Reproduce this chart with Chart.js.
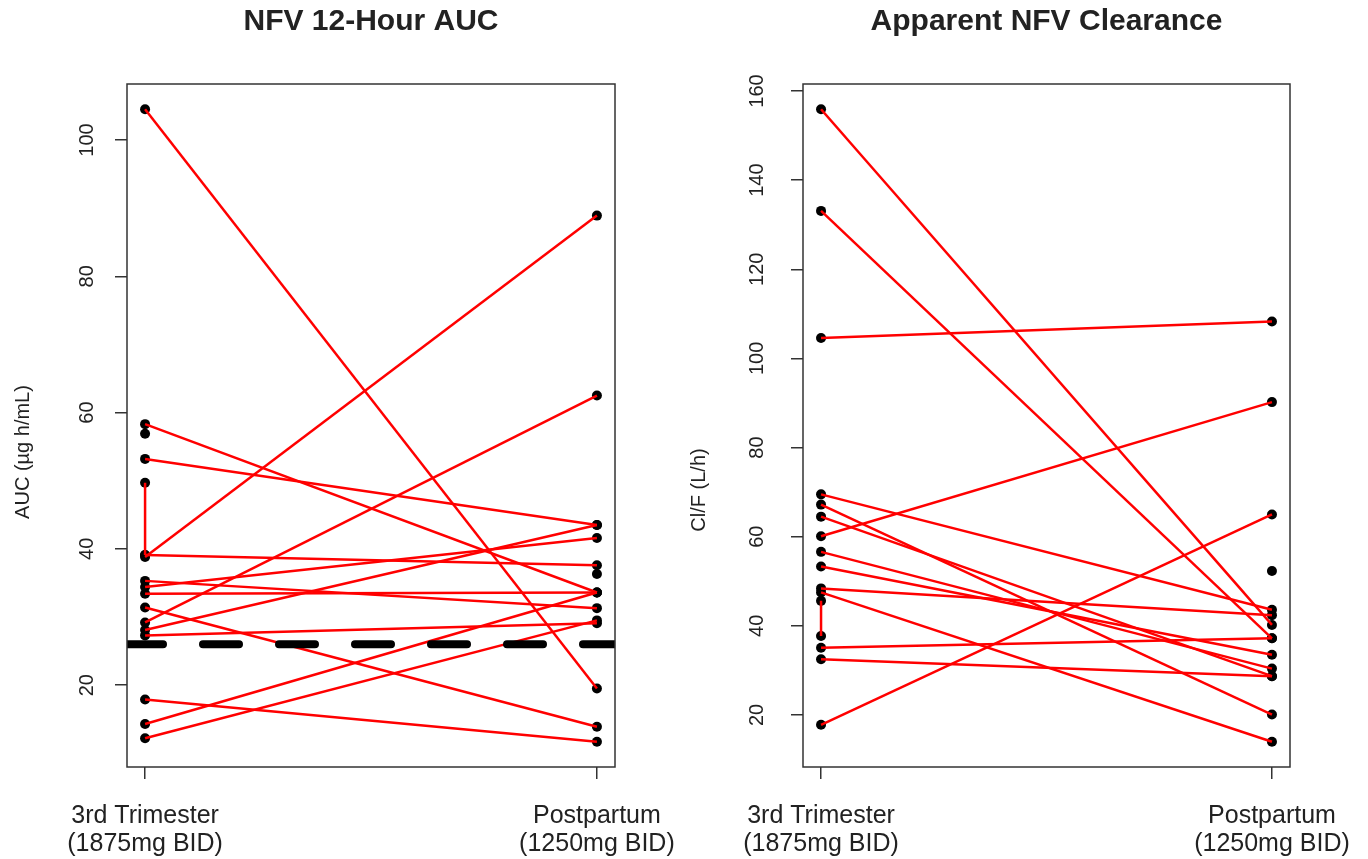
<!DOCTYPE html>
<html>
<head>
<meta charset="utf-8">
<script src="https://cdn.jsdelivr.net/npm/chart.js@4.4.1/dist/chart.umd.min.js"></script>
<style>
  html, body { margin: 0; padding: 0; background: #fff; }
  #wrap { position: relative; width: 1368px; height: 859px; }
  .panel { position: absolute; top: 0; width: 684px; height: 859px; }
</style>
</head>
<body>
<div id="wrap">
  <div class="panel" style="left:0"><canvas id="auc" width="684" height="859"></canvas></div>
  <div class="panel" style="left:684px"><canvas id="clearance" width="684" height="859"></canvas></div>
</div>
<script>
// ==================== DADOS ====================
const visitTicks = [1, 2];
const visitLabels = [["3rd Trimester", "(1875mg BID)"], ["Postpartum", "(1250mg BID)"]];

// NFV 12-hour AUC (µg h/mL), one entry per subject (null = not sampled)
const aucTrimester  = [104.5, 58.3, 56.9, null, 53.2, 38.8, 39.1, 35.3, 34.4, 33.4, 31.4, 29.2, 28.1, 27.3, 17.9, 14.3, 12.2];
const aucPostpartum = [19.5, 33.6, null, 36.3, 43.5, 88.9, 37.6, 31.3, 41.6, 33.6, 13.9, 62.5, 43.5, 29.1, 11.7, 33.6, 29.5];
const aucRepeat = [49.7, 39.1];   // two 3rd trimester samples, same subject
const aucTarget = 26;
const aucTicks = [20, 40, 60, 80, 100];

// apparent clearance Cl/F (L/h)
const clTrimester  = [155.9, 133.1, 104.6, 69.5, 67.2, 64.5, 60.1, 56.6, 53.3, 48.4, 47.5, 35.1, 32.5, 17.8, null];
const clPostpartum = [40.2, 37.2, 108.3, 43.6, 20.1, 28.7, 90.2, 30.4, 33.5, 42.4, 14.0, 37.2, 28.7, 65.0, 52.3];
const clRepeat = [45.6, 37.7];
const clTicks = [20, 40, 60, 80, 100, 120, 140, 160];

// ==================== HELPERS ====================
const FONT = '"Liberation Sans", Arial, sans-serif';
const TEXT = "#222";

// R style range: data range widened by 4% each side
function rRange(values) {
  const v = values.filter((d) => d !== null);
  const lo = Math.min(...v), hi = Math.max(...v);
  const pad = (hi - lo) * 0.04;
  return [lo - pad, hi + pad];
}

function drawText(ctx, txt, x, y, font, rotate) {
  ctx.save();
  ctx.translate(x, y);
  if (rotate) ctx.rotate(-Math.PI / 2);
  ctx.font = font;
  ctx.fillStyle = TEXT;
  ctx.textAlign = "center";
  ctx.textBaseline = "middle";
  ctx.fillText(txt, 0, 0);
  ctx.restore();
}

const decoPlugin = {
  id: "deco",
  afterDraw(chart) {
    const { ctx, chartArea: a, scales } = chart;
    const o = chart.options.plugins.deco;

    // linha alvo tracejada
    if (o.target !== null) {
      const y = scales.y.getPixelForValue(o.target);
      ctx.save();
      ctx.beginPath();
      ctx.rect(a.left, a.top, a.right - a.left, a.bottom - a.top);
      ctx.clip();
      ctx.strokeStyle = "#000";
      ctx.lineWidth = 8;
      ctx.lineCap = "round";
      ctx.setLineDash([36, 40]);
      ctx.beginPath();
      ctx.moveTo(a.left, y);
      ctx.lineTo(a.right, y);
      ctx.stroke();
      ctx.restore();
    }

    // caixa
    ctx.save();
    ctx.strokeStyle = "#333";
    ctx.lineWidth = 1.5;
    ctx.strokeRect(a.left, a.top, a.right - a.left, a.bottom - a.top);
    ctx.restore();

    // titulo
    drawText(ctx, o.title, (a.left + a.right) / 2, 22, "bold 30px " + FONT, false);

    // rótulos do eixo y
    scales.y.ticks.forEach((t) => {
      drawText(ctx, String(t.value), a.left - o.tickGap, scales.y.getPixelForValue(t.value), "20px " + FONT, true);
    });
    drawText(ctx, o.yTitle, a.left - 104, o.yTitleY, "20px " + FONT, true);

    // rótulos do eixo x
    scales.x.ticks.forEach((t, i) => {
      const x = scales.x.getPixelForValue(t.value);
      visitLabels[i].forEach((line, j) => {
        drawText(ctx, line, x, a.bottom + 49 + j * 28, "25px " + FONT, false);
      });
    });
  }
};

function criarPainel(id, cfg) {
  const datasets = [];
  const pontos = [];

  cfg.trimester.forEach((t, i) => {
    const p = cfg.postpartum[i];
    if (t !== null) pontos.push({ x: 1, y: t });
    if (p !== null) pontos.push({ x: 2, y: p });
    if (t !== null && p !== null) {
      datasets.push({
        data: [{ x: 1, y: t }, { x: 2, y: p }],
        showLine: true,
        borderColor: "#ff0000",
        borderWidth: 2.5,
        pointRadius: 0,
        order: 1
      });
    }
  });

  cfg.repeat.forEach((v) => pontos.push({ x: 1, y: v }));
  datasets.push({
    data: cfg.repeat.map((v) => ({ x: 1, y: v })),
    showLine: true,
    borderColor: "#ff0000",
    borderWidth: 2.5,
    pointRadius: 0,
    order: 1
  });

  datasets.push({
    data: pontos,
    showLine: false,
    pointRadius: 5,
    pointBackgroundColor: "#000",
    pointBorderWidth: 0,
    order: 2
  });

  const yr = rRange(cfg.trimester.concat(cfg.postpartum, cfg.repeat));
  const xr = rRange(visitTicks);

  new Chart(document.getElementById(id), {
    type: "scatter",
    data: { datasets },
    options: {
      responsive: false,
      animation: false,
      layout: { padding: cfg.padding },
      plugins: {
        legend: { display: false },
        tooltip: { enabled: false },
        deco: { title: cfg.title, yTitle: cfg.yTitle, yTitleY: cfg.yTitleY, tickGap: cfg.tickGap, target: cfg.target }
      },
      scales: {
        x: {
          type: "linear",
          min: xr[0],
          max: xr[1],
          afterBuildTicks: (s) => { s.ticks = visitTicks.map((v) => ({ value: v })); },
          afterFit: (s) => { s.height = 12; },
          ticks: { display: false },
          grid: { drawOnChartArea: false, drawTicks: true, tickLength: 12, color: "#333", lineWidth: 1.5 },
          border: { display: false }
        },
        y: {
          type: "linear",
          min: yr[0],
          max: yr[1],
          afterBuildTicks: (s) => { s.ticks = cfg.ticks.map((v) => ({ value: v })); },
          afterFit: (s) => { s.width = 12; },
          ticks: { display: false },
          grid: { drawOnChartArea: false, drawTicks: true, tickLength: 12, color: "#333", lineWidth: 1.5 },
          border: { display: false }
        }
      }
    },
    plugins: [decoPlugin]
  });
}

criarPainel("auc", {
  title: "NFV 12-Hour AUC",
  yTitle: "AUC (µg h/mL)",
  yTitleY: 452,
  tickGap: 40,
  trimester: aucTrimester,
  postpartum: aucPostpartum,
  repeat: aucRepeat,
  target: aucTarget,
  ticks: aucTicks,
  padding: { left: 115, right: 69, top: 84, bottom: 80 }
});

criarPainel("clearance", {
  title: "Apparent NFV Clearance",
  yTitle: "Cl/F (L/h)",
  yTitleY: 490,
  tickGap: 46,
  trimester: clTrimester,
  postpartum: clPostpartum,
  repeat: clRepeat,
  target: null,
  ticks: clTicks,
  padding: { left: 107, right: 78, top: 84, bottom: 80 }
});
</script>
</body>
</html>
